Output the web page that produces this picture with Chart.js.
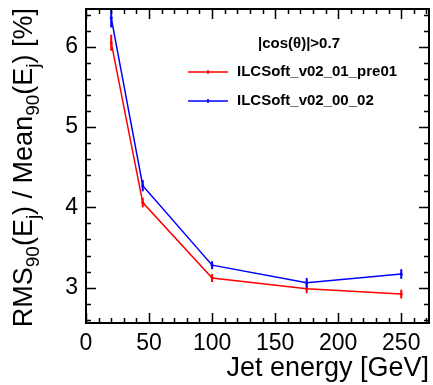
<!DOCTYPE html>
<html>
<head>
<meta charset="utf-8">
<script src="https://cdn.jsdelivr.net/npm/chart.js@4.4.1/dist/chart.umd.min.js"></script>
<style>
  html, body { margin: 0; padding: 0; background: #fff; }
</style>
</head>
<body>
<canvas id="c" width="433" height="385"></canvas>
<script>
// jet energies [GeV] and RMS90/Mean90 resolution [%]
const energies = [20, 45, 100, 175, 250];
const redValues = [6.05, 4.06, 3.12, 2.985, 2.92];
const redErrors = [0.10, 0.06, 0.05, 0.055, 0.055];
const blueValues = [6.36, 4.27, 3.28, 3.06, 3.17];
const blueErrors = [0.12, 0.07, 0.05, 0.06, 0.06];
const xTicks = [0, 50, 100, 150, 200, 250];
const yTicks = [3, 4, 5, 6];
const legendHeader = '|cos(\u03B8)|>0.7';
const seriesNames = ['ILCSoft_v02_01_pre01', 'ILCSoft_v02_00_02'];
const seriesColors = ['rgb(255,0,0)', 'rgb(0,0,255)'];

const FONT = "'Liberation Sans', Arial, Helvetica, sans-serif";
Chart.defaults.font.family = FONT;
Chart.defaults.color = '#000';

const toPoints = (vals) => vals.map((v, i) => ({ x: energies[i], y: v }));

// ROOT-like frame, inner ticks, error bars, y title with subscripts, legend
const rootStyle = {
  id: 'rootStyle',
  afterDatasetsDraw(chart) {
    const { ctx, chartArea: a, scales: { x, y } } = chart;
    ctx.save();
    ctx.beginPath();
    ctx.rect(a.left, a.top, a.right - a.left, a.bottom - a.top);
    ctx.clip();
    chart.data.datasets.forEach(ds => {
      ctx.strokeStyle = ds.borderColor;
      ctx.lineWidth = 2;
      ds.data.forEach((p, i) => {
        const px = x.getPixelForValue(p.x);
        ctx.beginPath();
        ctx.moveTo(px, y.getPixelForValue(p.y - ds.errors[i]));
        ctx.lineTo(px, y.getPixelForValue(p.y + ds.errors[i]));
        ctx.stroke();
      });
    });
    ctx.restore();
  },
  afterDraw(chart) {
    const { ctx, chartArea: a, scales: { x, y } } = chart;
    ctx.save();
    ctx.strokeStyle = '#000';
    ctx.lineWidth = 1.5;
    ctx.beginPath();
    // x ticks, bottom and top
    for (let v = 0; v <= x.max; v += 10) {
      const px = Math.round(x.getPixelForValue(v)) + 0.5;
      const len = v % 50 === 0 ? 10 : 5;
      ctx.moveTo(px, a.bottom); ctx.lineTo(px, a.bottom - len);
      ctx.moveTo(px, a.top); ctx.lineTo(px, a.top + len);
    }
    // y ticks, left and right
    for (let k = Math.ceil(y.min * 5); k <= Math.floor(y.max * 5); k++) {
      const py = Math.round(y.getPixelForValue(k / 5)) + 0.5;
      const len = k % 5 === 0 ? 10 : 5;
      ctx.moveTo(a.left, py); ctx.lineTo(a.left + len, py);
      ctx.moveTo(a.right, py); ctx.lineTo(a.right - len, py);
    }
    ctx.stroke();
    ctx.lineWidth = 2;
    ctx.strokeRect(a.left, a.top, a.right - a.left, a.bottom - a.top);

    // y axis title with subscripts
    const segs = [
      ['RMS', 0], ['90', 1], ['(E', 0], ['j', 1], [') / Mean', 0],
      ['90', 1], ['(E', 0], ['j', 1], [') [%]', 0]
    ];
    const big = '27px ' + FONT, small = '19px ' + FONT;
    let total = 0;
    segs.forEach(([t, s]) => { ctx.font = s ? small : big; total += ctx.measureText(t).width; });
    ctx.translate(32, 8);
    ctx.rotate(-Math.PI / 2);
    ctx.fillStyle = '#000';
    ctx.textBaseline = 'alphabetic';
    ctx.textAlign = 'left';
    let cx = -total;
    segs.forEach(([t, s]) => {
      ctx.font = s ? small : big;
      ctx.fillText(t, cx, s ? 7 : 0);
      cx += ctx.measureText(t).width;
    });
    ctx.setTransform(1, 0, 0, 1, 0, 0);

    // legend
    ctx.font = 'bold 15px ' + FONT;
    ctx.textBaseline = 'middle';
    ctx.textAlign = 'center';
    ctx.fillText(legendHeader, 299, 44);
    ctx.textAlign = 'left';
    seriesNames.forEach((name, i) => {
      const ly = 72 + i * 29;
      ctx.strokeStyle = seriesColors[i];
      ctx.lineWidth = 1.5;
      ctx.beginPath();
      ctx.moveTo(188, ly); ctx.lineTo(228, ly);
      ctx.moveTo(208, ly - 2); ctx.lineTo(208, ly + 2);
      ctx.stroke();
      ctx.fillStyle = '#000';
      ctx.fillText(name, 237, ly);
    });
    ctx.restore();
  }
};

new Chart(document.getElementById('c'), {
  type: 'line',
  data: {
    datasets: [
      {
        label: seriesNames[0],
        data: toPoints(redValues),
        errors: redErrors,
        borderColor: seriesColors[0],
        backgroundColor: seriesColors[0],
        borderWidth: 1.5,
        pointRadius: 1.5,
        pointBorderWidth: 0,
        tension: 0
      },
      {
        label: seriesNames[1],
        data: toPoints(blueValues),
        errors: blueErrors,
        borderColor: seriesColors[1],
        backgroundColor: seriesColors[1],
        borderWidth: 1.5,
        pointRadius: 1.5,
        pointBorderWidth: 0,
        tension: 0
      }
    ]
  },
  options: {
    responsive: false,
    animation: false,
    devicePixelRatio: 1,
    layout: { padding: { top: 9, right: 2, left: 0, bottom: 0 } },
    scales: {
      x: {
        type: 'linear',
        min: 0,
        max: 272,
        afterBuildTicks: s => { s.ticks = xTicks.map(v => ({ value: v })); },
        afterFit: s => { s.height = 62; s.paddingLeft = 0; s.paddingRight = 0; },
        grid: { display: false, drawTicks: false },
        border: { display: false },
        ticks: { font: { size: 23 }, color: '#000', padding: 7, maxRotation: 0, autoSkip: false },
        title: {
          display: true,
          text: 'Jet energy [GeV]',
          align: 'end',
          color: '#000',
          font: { size: 27 },
          padding: 0
        }
      },
      y: {
        type: 'linear',
        min: 2.56,
        max: 6.47,
        afterBuildTicks: s => { s.ticks = yTicks.map(v => ({ value: v })); },
        afterFit: s => { s.width = 86; s.paddingTop = 0; s.paddingBottom = 0; },
        grid: { display: false, drawTicks: false },
        border: { display: false },
        ticks: { font: { size: 23 }, color: '#000', padding: 8 }
      }
    },
    plugins: {
      legend: { display: false },
      tooltip: { enabled: false }
    }
  },
  plugins: [rootStyle]
});
</script>
</body>
</html>
